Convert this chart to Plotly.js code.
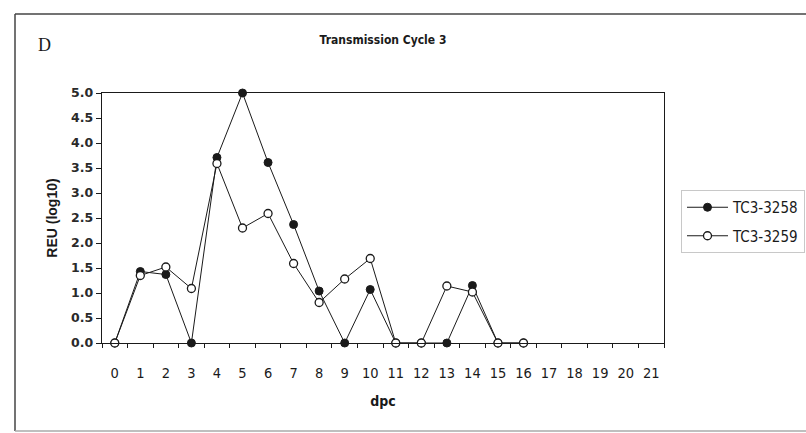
<!DOCTYPE html>
<html>
<head>
<meta charset="utf-8">
<script src="https://cdn.plot.ly/plotly-3.0.1.min.js"></script>
<style>html,body{margin:0;padding:0;background:#fff;}#chart{width:806px;height:433px;}</style>
</head>
<body>
<div id="chart"></div>
<script>
// Days post challenge (dpc) shown on the category axis
const dayTicks = [0,1,2,3,4,5,6,7,8,9,10,11,12,13,14,15,16,17,18,19,20,21];
// Sampled days
const days3258 = [0,1,2,3,4,5,6,7,8,9,10,11,12,13,14,15,16];
const days3259 = [0,1,2,3,4,5,6,7,8,9,10,11,12,13,14,15,16];
// REU (log10) values
const reu3258 = [0, 1.43, 1.37, 0, 3.71, 5.0, 3.61, 2.37, 1.04, 0, 1.07, 0, 0, 0, 1.15, 0, 0];
const reu3259 = [0, 1.35, 1.52, 1.09, 3.59, 2.30, 2.59, 1.59, 0.81, 1.28, 1.69, 0, 0, 1.14, 1.02, 0, 0];
const seriesNames = ['TC3-3258', 'TC3-3259'];
const yTicks = [0,0.5,1,1.5,2,2.5,3,3.5,4,4.5,5];

const narrow = "'Liberation Sans Narrow', 'Arial Narrow', 'DejaVu Sans Condensed', sans-serif";
const sans = "'Liberation Sans', Arial, sans-serif";
const ink = '#1a1a1a';

const traces = [
  {
    x: days3258, y: reu3258, name: seriesNames[0], type: 'scatter', mode: 'lines+markers',
    line: {color: ink, width: 1}, cliponaxis: false,
    marker: {symbol: 'circle', size: 8, color: ink, line: {color: ink, width: 1}},
    legendgroup: 'a'
  },
  {
    x: days3259, y: reu3259, name: seriesNames[1], type: 'scatter', mode: 'lines+markers',
    line: {color: ink, width: 1}, cliponaxis: false,
    marker: {symbol: 'circle', size: 8, color: '#ffffff', line: {color: ink, width: 1.3}},
    legendgroup: 'b'
  }
];

const layout = {
  width: 806, height: 433,
  margin: {l: 102, r: 142, t: 93, b: 90, pad: 0, autoexpand: false},
  paper_bgcolor: '#ffffff', plot_bgcolor: '#ffffff',
  font: {family: narrow, size: 14, color: ink},
  showlegend: true,
  title: {text: 'Transmission Cycle 3', font: {family: narrow, size: 12, weight: 'bold', color: ink},
          x: 0.5, xref: 'paper', y: 1 - 40/433, yref: 'container', yanchor: 'middle'},
  xaxis: {
    range: [-0.5, 21.5], tickmode: 'array', tickvals: dayTicks, ticktext: dayTicks.map(String),
    showgrid: false, zeroline: false, showline: true, linecolor: ink, linewidth: 1.3, mirror: true,
    ticks: 'outside', ticklen: 4, tickcolor: 'rgba(0,0,0,0)', ticklabelstandoff: 12,
    tickfont: {family: narrow, size: 14.5, color: ink},
    minor: {tick0: 0.5, dtick: 1, ticks: 'outside', ticklen: 4, tickcolor: ink, tickwidth: 1, showgrid: false},
    title: {text: 'dpc', font: {family: narrow, size: 14, weight: 'bold', color: ink}, standoff: 16}
  },
  yaxis: {
    range: [0, 5], tickmode: 'array', tickvals: yTicks, ticktext: yTicks.map(v => v.toFixed(1)),
    showgrid: false, zeroline: false, showline: true, linecolor: ink, linewidth: 1.3, mirror: true,
    ticks: 'outside', ticklen: 5, tickcolor: ink, tickwidth: 1,
    tickfont: {family: "'DejaVu Sans', sans-serif", size: 12.5, weight: 'bold', color: '#2a2a2a'},
    title: {text: 'REU (log10)', font: {family: sans, size: 14, weight: 'bold', color: ink}, standoff: 10}
  },
  legend: {
    xref: 'container', yref: 'container',
    x: 681 / 806, xanchor: 'left', y: 1 - 190 / 433, yanchor: 'top',
    bordercolor: '#c8c8c8', borderwidth: 1, bgcolor: '#ffffff',
    traceorder: 'grouped', tracegroupgap: 6, itemwidth: 41,
    font: {family: narrow, size: 15, color: ink}
  },
  annotations: [
    {text: 'D', xref: 'paper', yref: 'paper', x: (45 - 102) / 562, y: (343 - 45) / 250,
     xanchor: 'center', yanchor: 'middle', showarrow: false,
     font: {family: "'Liberation Serif', 'Times New Roman', serif", size: 18, color: ink}}
  ],
  shapes: [
    {type: 'line', xref: 'paper', yref: 'paper', x0: (15 - 102) / 562, x1: (820 - 102) / 562,
     y0: (343 - 14) / 250, y1: (343 - 14) / 250, line: {color: '#444', width: 1.5}},
    {type: 'line', xref: 'paper', yref: 'paper', x0: (15 - 102) / 562, x1: (15 - 102) / 562,
     y0: (343 - 14) / 250, y1: (343 - 431) / 250, line: {color: '#444', width: 1.5}},
    {type: 'line', xref: 'paper', yref: 'paper', x0: (15 - 102) / 562, x1: (820 - 102) / 562,
     y0: (343 - 431) / 250, y1: (343 - 431) / 250, line: {color: '#aaa', width: 1.5}}
  ]
};

Plotly.newPlot('chart', traces, layout, {displayModeBar: false, staticPlot: true});
</script>
</body>
</html>
